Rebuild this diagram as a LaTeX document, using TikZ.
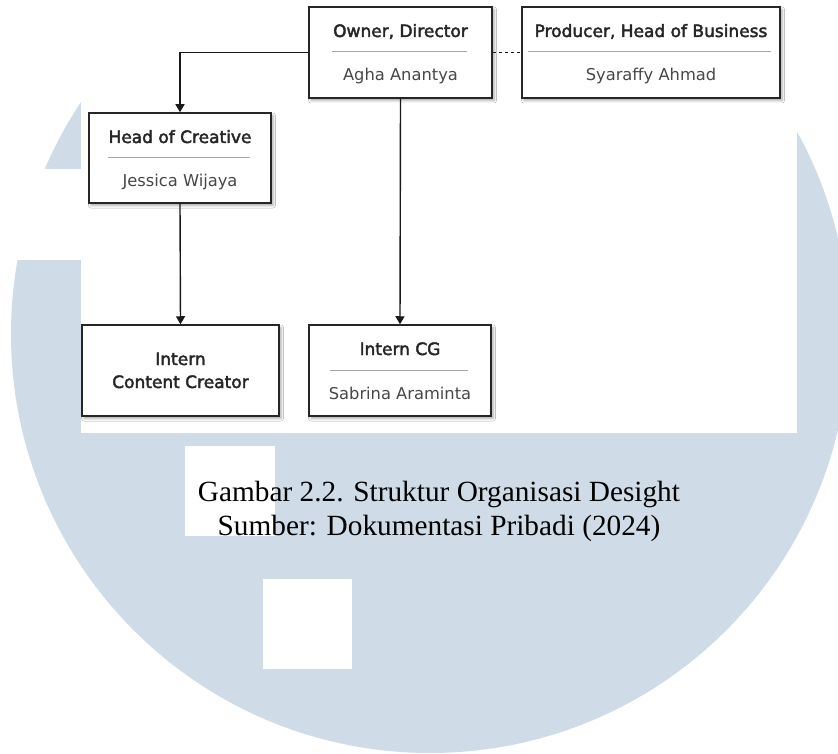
\documentclass[tikz,border=0pt]{standalone}
\usepackage{fontspec}
\setmainfont{Liberation Serif}
\newfontfamily\boxfont{DejaVu Sans}
\newfontfamily\ttlfont[FakeBold=2.5]{DejaVu Sans}
\usetikzlibrary{arrows.meta,shadows.blur}
\definecolor{wm}{RGB}{207,220,231}
\begin{document}
\begin{tikzpicture}[x=1pt,y=-1pt,
  box/.style={draw=black!85, line width=1.5pt, fill=white, inner sep=0pt,
    blur shadow={shadow xshift=2pt, shadow yshift=-2.5pt, shadow blur radius=2.5pt, shadow opacity=35}},
  ttl/.style={anchor=base, inner sep=0pt, font=\ttlfont\fontsize{17}{20}\selectfont, text=black!85},
  nm/.style={anchor=base, inner sep=0pt, font=\boxfont\fontsize{16.3}{19}\selectfont, text=black!72},
  sepline/.style={draw=black!35, line width=1pt},
  link/.style={line width=1.4pt, draw=black!90, -{Triangle[length=8pt,width=9pt]}},
  capt/.style={anchor=base, inner sep=0pt, font=\fontsize{29.3}{34}\selectfont, text=black},
]
\useasboundingbox (0,0) rectangle (838,754);
% background watermark
\fill[white] (0,0) rectangle (838,754);
\fill[wm] (430,334) circle[radius=419pt];
\fill[white] (0,169) rectangle (81,260);
\fill[white] (185,446) rectangle (275,536);
\fill[white] (263,579) rectangle (352,669);
\fill[white] (81,0) rectangle (797,433);

% boxes
\node[box, minimum width=183pt, minimum height=91pt] (owner) at (400.5,52.5) {};
\node[box, minimum width=258pt, minimum height=91pt] (prod) at (651,52.5) {};
\node[box, minimum width=182pt, minimum height=90pt] (hoc) at (180,158) {};
\node[box, minimum width=197pt, minimum height=91pt] (icc) at (180.5,370.5) {};
\node[box, minimum width=182pt, minimum height=91pt] (icg) at (400,370.5) {};

% texts
\node[ttl] (ownerT) at (400.5,37) {Owner, Director};
\draw[sepline] (332,52) -- (467,52);
\node[nm] (ownerN) at (400.5,81) {Agha Anantya};

\node[ttl] (prodT) at (651,37) {Producer, Head of Business};
\draw[sepline] (528,52) -- (771,52);
\node[nm] (prodN) at (651,81) {Syaraffy Ahmad};

\node[ttl] (hocT) at (180,143) {Head of Creative};
\draw[sepline] (108,158) -- (250,158);
\node[nm] (hocN) at (180,187) {Jessica Wijaya};

\node[ttl] (iccT1) at (180.5,365) {Intern};
\node[ttl] (iccT2) at (180.5,388) {Content Creator};

\node[ttl] (icgT) at (400,355) {Intern CG};
\draw[sepline] (330,370) -- (468,370);
\node[nm] (icgN) at (400,399) {Sabrina Araminta};

% connectors
\draw[link] (owner.west) -| (hoc.north);
\draw[link] (hoc.south) -- (icc.north);
\draw[link] (owner.south) -- (icg.north);
\draw[line width=1.4pt, draw=black!90, dash pattern=on 3pt off 3pt] (owner.east) -- (prod.west);

% caption
\node[capt] (cap1) at (439,501) {Gambar 2.2. Struktur Organisasi Desight};
\node[capt] (cap2) at (439,535) {Sumber: Dokumentasi Pribadi (2024)};
\end{tikzpicture}
\end{document}
